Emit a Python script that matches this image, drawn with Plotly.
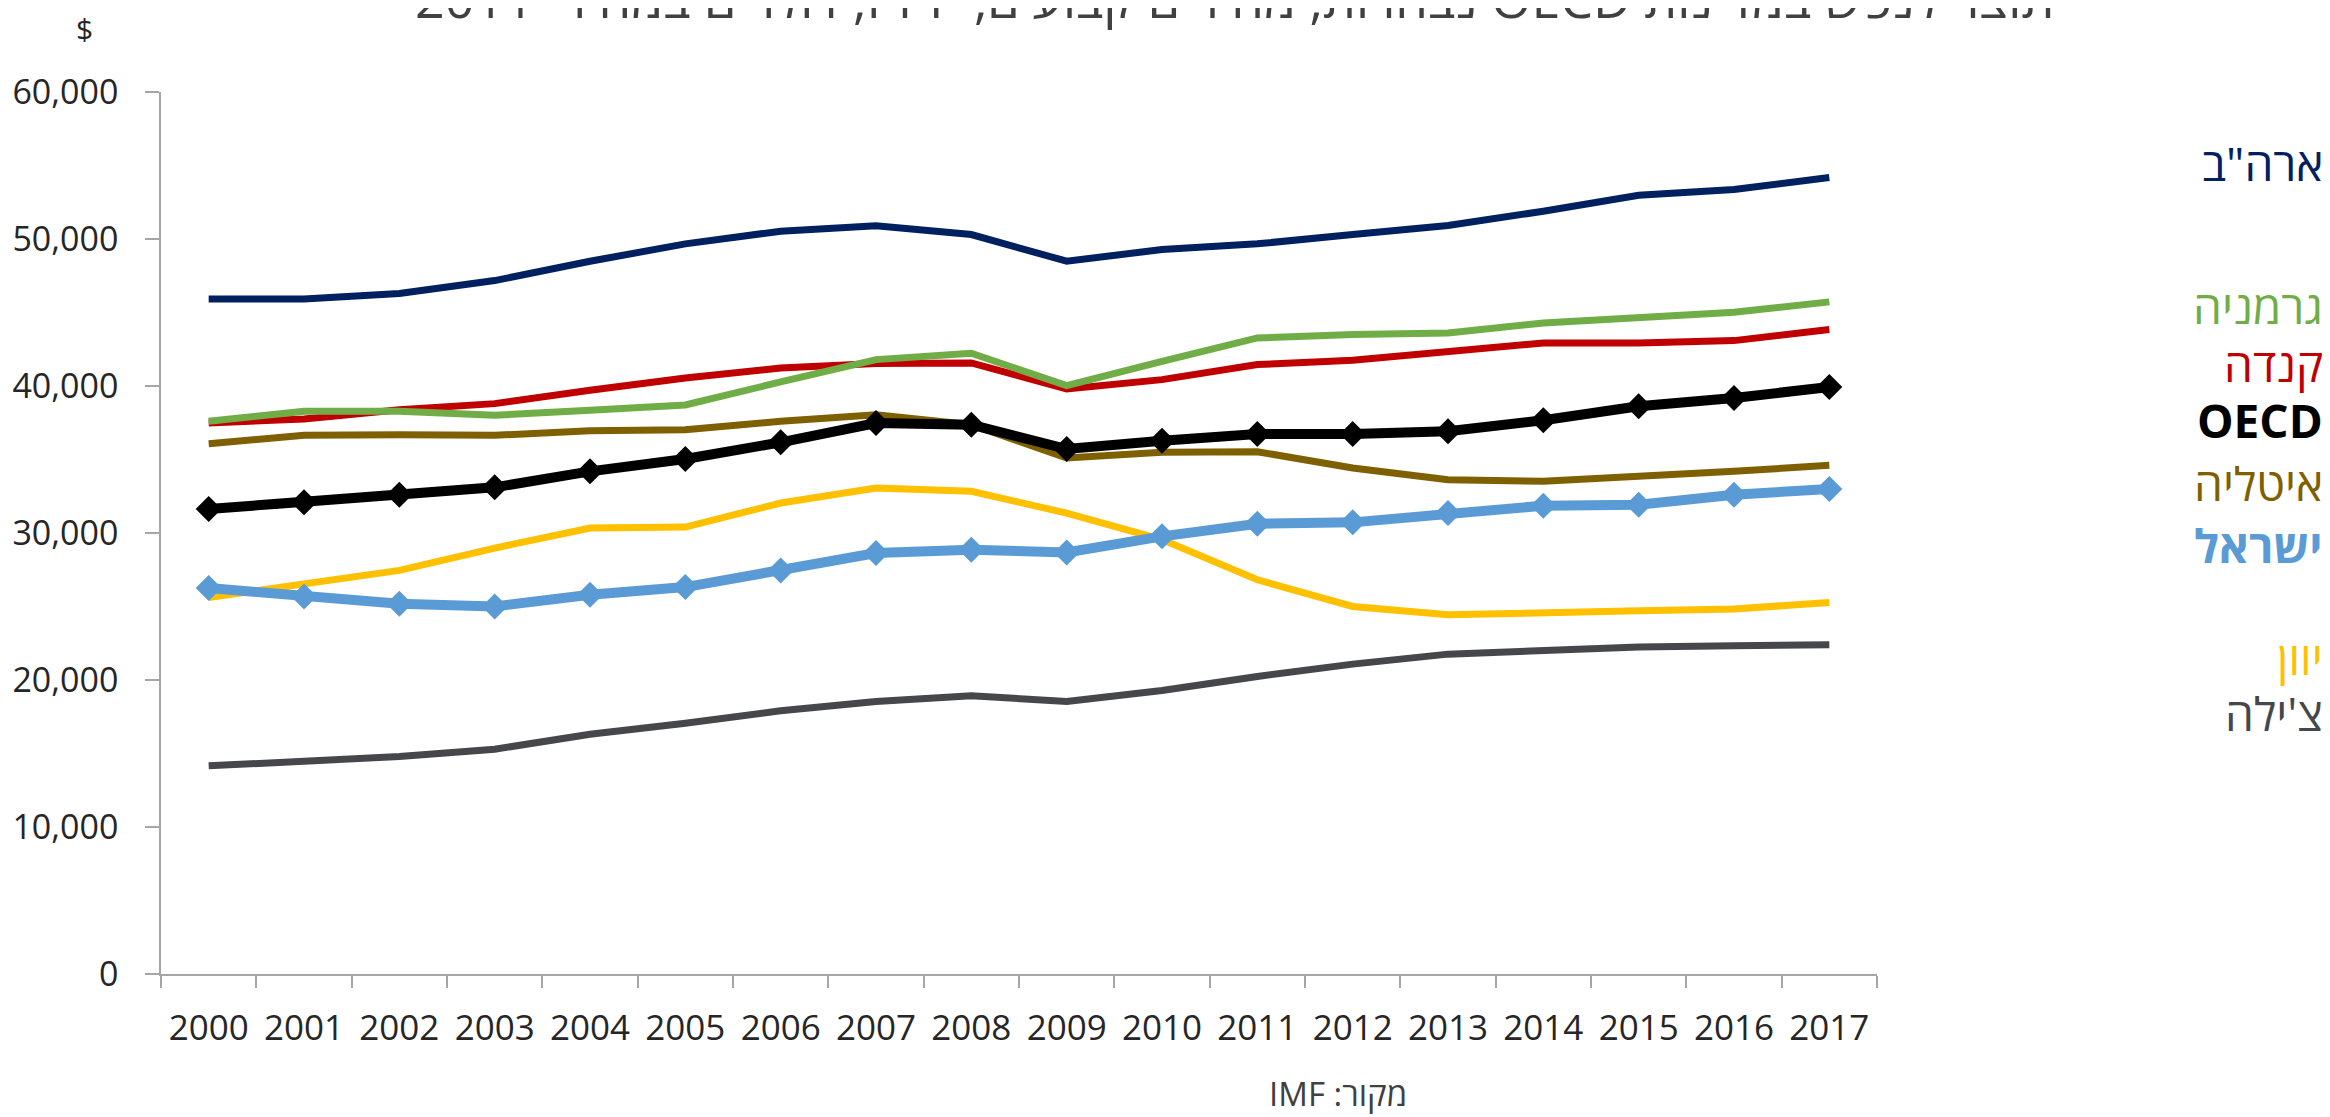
import plotly.graph_objects as go

years = [str(y) for y in range(2000, 2018)]

usa     = [45925, 45925, 46288, 47172, 48489, 49670, 50531, 50894, 50304, 48489, 49283, 49670, 50304, 50916, 51890, 52980, 53367, 54184]
germany = [37597, 38278, 38278, 38006, 38346, 38710, 40275, 41795, 42225, 40025, 41680, 43271, 43497, 43611, 44292, 44632, 45017, 45722]
canada  = [37484, 37756, 38391, 38800, 39707, 40547, 41227, 41523, 41569, 39798, 40434, 41455, 41750, 42295, 42929, 42929, 43088, 43837]
oecd    = [31630, 32084, 32606, 33105, 34194, 35033, 36168, 37484, 37370, 35714, 36281, 36735, 36735, 36917, 37665, 38618, 39186, 39934]
italy   = [36077, 36644, 36690, 36644, 36962, 37030, 37597, 38051, 37370, 35101, 35487, 35532, 34421, 33627, 33513, 33810, 34194, 34603]
israel  = [26252, 25685, 25186, 25004, 25799, 26320, 27455, 28635, 28862, 28681, 29771, 30632, 30723, 31358, 31857, 31925, 32606, 32991]
greece  = [25617, 26592, 27455, 28975, 30337, 30405, 32038, 33059, 32833, 31358, 29550, 26820, 25004, 24437, 24619, 24709, 24823, 25277]
chile   = [14159, 14453, 14793, 15293, 16314, 17063, 17902, 18538, 18923, 18538, 19286, 20240, 21079, 21760, 22010, 22237, 22327, 22395]

y_ticks = [0, 10000, 20000, 30000, 40000, 50000, 60000]
y_tick_labels = ["0", "10,000", "20,000", "30,000", "40,000", "50,000", "60,000"]

RLE, PDF = "\u202b", "\u202c"
title_text = "תוצר לנפש במדינות OECD נבחרות, מחירים קבועים, PPP, דולרים במחירי 2011"
source_text = "מקור: IMF"
unit_text = "$"

labels = ['ארה"ב', "גרמניה", "קנדה", "OECD", "איטליה", "ישראל", "יוון", "צ'ילה"]

FONT = "Open Sans, DejaVu Sans, sans-serif"

series = [
    # name, values, color, width, markers
    (labels[0], usa, "#002060", 7, False),
    (labels[2], canada, "#C00000", 7, False),
    (labels[1], germany, "#70AD47", 7, False),
    (labels[4], italy, "#7F6000", 7, False),
    (labels[3], oecd, "#000000", 10, True),
    (labels[6], greece, "#FFC000", 7, False),
    (labels[5], israel, "#5B9BD5", 10, True),
    (labels[7], chile, "#46474B", 7, False),
]

fig = go.Figure()
for name, vals, color, width, mk in series:
    fig.add_trace(go.Scatter(
        x=years, y=vals, name=name,
        mode="lines+markers" if mk else "lines",
        line=dict(color=color, width=width),
        marker=dict(symbol="diamond", size=20, color=color) if mk else None,
        showlegend=False,
        hoverinfo="x+y+name",
    ))

# right-side labels
label_info = [
    (labels[0], "#002060", False, 0.9196),
    (labels[1], "#70AD47", False, 0.7579),
    (labels[2], "#C00000", False, 0.6921),
    (labels[3], "#000000", True, 0.6280),
    (labels[4], "#7F6000", False, 0.5570),
    (labels[5], "#5B9BD5", True, 0.4867),
    (labels[6], "#FFC000", False, 0.3597),
    (labels[7], "#46474B", False, 0.2961),
]
annotations = []
for text, color, bold, yp in label_info:
    annotations.append(dict(
        text=f"<b>{text}</b>" if bold else text,
        xref="paper", yref="paper", x=1.2612, y=yp,
        xanchor="right", yanchor="middle", showarrow=False,
        font=dict(family=FONT, size=46, color=color),
    ))

annotations.append(dict(
    text=unit_text, xref="paper", yref="paper", x=-0.0443, y=1.072,
    xanchor="center", yanchor="middle", showarrow=False,
    font=dict(family=FONT, size=30, color="#262626"),
))
annotations.append(dict(
    text=RLE + source_text + PDF, xref="paper", yref="paper", x=0.686, y=-0.135,
    xanchor="center", yanchor="middle", showarrow=False,
    font=dict(family=FONT, size=33, color="#404040"),
))
annotations.append(dict(
    text=RLE + title_text + PDF, xref="paper", yref="paper", x=0.6255, y=1.1075,
    xanchor="center", yanchor="middle", showarrow=False,
    font=dict(family=FONT, size=52, color="#404040"),
))

fig.update_layout(
    width=2322, height=1109,
    paper_bgcolor="white", plot_bgcolor="white",
    margin=dict(l=153, r=453, t=84, b=143),
    annotations=annotations,
    xaxis=dict(
        type="category", tickson="boundaries", range=[-0.5, 17.5], automargin=False,
        showline=True, linecolor="#A6A6A6", linewidth=1.5,
        ticks="outside", ticklen=12, tickcolor="#A6A6A6", tickwidth=1.5,
        showgrid=False, zeroline=False,
        tickfont=dict(family=FONT, size=35, color="#262626"),
        ticklabelstandoff=22,
    ),
    yaxis=dict(
        range=[0, 60000], tickvals=y_ticks, ticktext=y_tick_labels, automargin=False,
        showline=True, linecolor="#A6A6A6", linewidth=1.5,
        ticks="outside", ticklen=14, tickcolor="#A6A6A6", tickwidth=1.5,
        showgrid=False, zeroline=False,
        tickfont=dict(family=FONT, size=34, color="#262626"),
        ticklabelstandoff=20,
    ),
)

fig.write_html("out.html")
